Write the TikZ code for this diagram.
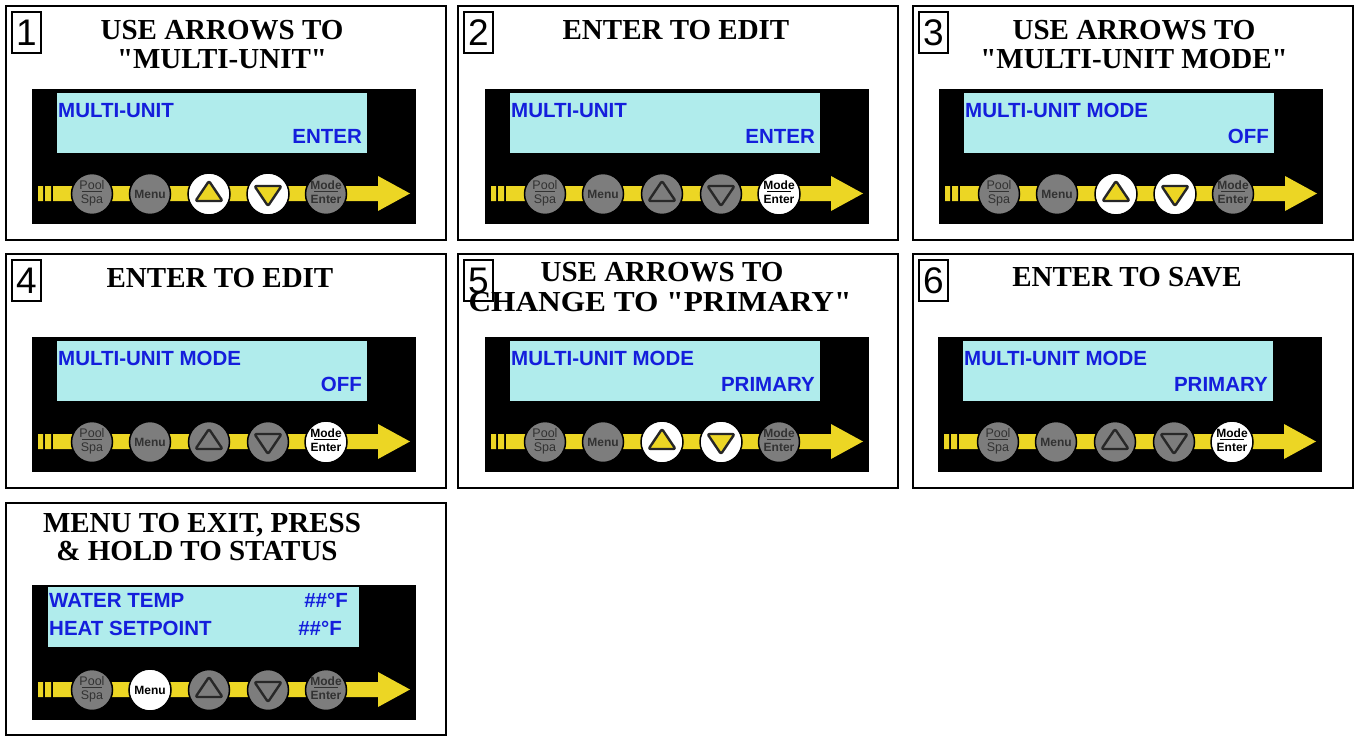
\documentclass[tikz,border=0pt]{standalone}
\usepackage{fontspec}
\setmainfont{Liberation Serif}[Ligatures=TeXOff]
\setsansfont{Liberation Sans}
\definecolor{lcd}{RGB}{176,236,236}
\definecolor{lcdblue}{RGB}{20,30,220}
\definecolor{btngray}{RGB}{125,125,125}
\definecolor{btntext}{RGB}{50,50,50}
\definecolor{trigray}{RGB}{40,40,40}
\definecolor{padyellow}{RGB}{236,214,36}
\newcommand\dq{\char34\relax}
\tikzset{
 panel/.style={draw=black, line width=2pt, minimum width=440pt, minimum height=234pt, inner sep=0pt, anchor=north west},
 numbox/.style={draw=black, line width=2pt, minimum width=29pt, minimum height=41pt, inner sep=0pt, anchor=north west, font=\sffamily\fontsize{37}{37}\selectfont},
 ttl/.style={font=\bfseries\fontsize{29}{29}\selectfont, inner sep=0pt, anchor=base},
 blk/.style={fill=black, minimum width=384pt, minimum height=135pt, inner sep=0pt, anchor=north west},
 lcdbox/.style={fill=lcd, minimum width=310pt, minimum height=60pt, inner sep=0pt, anchor=north west},
 lcdtxt/.style={text=lcdblue, font=\sffamily\bfseries\fontsize{20.5}{21}\selectfont, inner sep=0pt},
 btnoff/.style={circle, fill=btngray, draw=black, line width=1.5pt, minimum size=41pt, inner sep=0pt},
 btnon/.style={circle, fill=white, draw=black, line width=1.5pt, minimum size=42pt, inner sep=0pt},
 btoff/.style={text=btntext, inner sep=0pt, font=\sffamily\fontsize{12.5}{12.5}\selectfont},
 bton/.style={text=black, inner sep=0pt, font=\sffamily\fontsize{12.5}{12.5}\selectfont},
 mybold/.style={font=\sffamily\bfseries\fontsize{12}{12}\selectfont},
 lnoff/.style={draw=btntext, line width=0.9pt},
 lnon/.style={draw=black, line width=0.9pt},
 trioff/.style={draw=trigray, fill=btngray, line width=2.4pt, rounded corners=2pt, line join=round},
 trion/.style={draw=black!85, fill=padyellow, line width=2.4pt, rounded corners=2pt, line join=round},
 barfill/.style={fill=padyellow},
}
\newcommand\Btns[8]{%
\begin{scope}[shift={(#2,#3)}]
 \node[blk] (#1blk) at (0,0) {};
 \path[barfill] (6,97) rectangle (11,112) (13,97) rectangle (19,112) (21,97) rectangle (347,112);
 \path[barfill] (346,87) -- (378,104.5) -- (346,122) -- cycle;
 \node[btn#4] (#1pool) at (60,105) {};
 \node[bt#4, anchor=base] (#1poolA) at (60,100) {Pool};
 \draw[ln#4] (50,102.5) -- (70,102.5);
 \node[bt#4, anchor=base] (#1poolB) at (60,114) {Spa};
 \node[btn#5] (#1menu) at (118,105) {};
 \node[bt#5, mybold] (#1menuA) at (118,105) {Menu};
 \node[btn#6] (#1up) at (177,105) {};
 \draw[tri#6] (163.5,112) -- (177,92) -- (190.5,112) -- cycle;
 \node[btn#7] (#1dn) at (236,105) {};
 \draw[tri#7] (222.5,97) -- (236,117) -- (249.5,97) -- cycle;
 \node[btn#8] (#1mode) at (294,105) {};
 \node[bt#8, mybold, anchor=base] (#1modeA) at (294,100) {Mode};
 \draw[ln#8] (282,102.5) -- (306,102.5);
 \node[bt#8, mybold, anchor=base] (#1modeB) at (294,114) {Enter};
\end{scope}}
\newcommand\Lcd[5]{%
 \node[lcdbox] (#1lcd) at ({#2+25},{#3+4}) {};
 \node[lcdtxt, anchor=base west] (#1la) at ({#2+26},{#3+28}) {#4};
 \node[lcdtxt, anchor=base east] (#1lb) at ({#2+330},{#3+54}) {#5};
}
\begin{document}
\begin{tikzpicture}[x=1pt,y=-1pt]
\useasboundingbox[fill=white] (0,0) rectangle (1356,736);
% Panel 1
\node[panel] (p1) at (5,5) {};
\node[numbox] (p1n) at (11,11) {1};
\node[ttl] (p1a) at (222,39) {USE ARROWS TO};
\node[ttl] (p1b) at (222,68) {\dq MULTI-UNIT\dq};
\Btns{p1}{32}{89}{off}{off}{on}{on}{off}
\Lcd{p1}{32}{89}{MULTI-UNIT}{ENTER}
% Panel 2
\node[panel] (p2) at (457,5) {};
\node[numbox] (p2n) at (463,11) {2};
\node[ttl] (p2a) at (676,39) {ENTER TO EDIT};
\Btns{p2}{485}{89}{off}{off}{off}{off}{on}
\Lcd{p2}{485}{89}{MULTI-UNIT}{ENTER}
% Panel 3
\node[panel] (p3) at (912,5) {};
\node[numbox] (p3n) at (918,11) {3};
\node[ttl] (p3a) at (1134,39) {USE ARROWS TO};
\node[ttl] (p3b) at (1134,68) {\dq MULTI-UNIT MODE\dq};
\Btns{p3}{939}{89}{off}{off}{on}{on}{off}
\Lcd{p3}{939}{89}{MULTI-UNIT MODE}{OFF}
% Panel 4
\node[panel] (p4) at (5,253) {};
\node[numbox] (p4n) at (11,259) {4};
\node[ttl] (p4a) at (220,287) {ENTER TO EDIT};
\Btns{p4}{32}{337}{off}{off}{off}{off}{on}
\Lcd{p4}{32}{337}{MULTI-UNIT MODE}{OFF}
% Panel 5
\node[panel] (p5) at (457,253) {};
\node[numbox] (p5n) at (463,259) {5};
\node[ttl] (p5a) at (662,281) {USE ARROWS TO};
\node[ttl] (p5b) at (660,311) {\scalebox{1.08}[1]{CHANGE TO \dq PRIMARY\dq}};
\Btns{p5}{485}{337}{off}{off}{on}{on}{off}
\Lcd{p5}{485}{337}{MULTI-UNIT MODE}{PRIMARY}
% Panel 6
\node[panel] (p6) at (912,253) {};
\node[numbox] (p6n) at (918,259) {6};
\node[ttl] (p6a) at (1127,286) {ENTER TO SAVE};
\Btns{p6}{938}{337}{off}{off}{off}{off}{on}
\Lcd{p6}{938}{337}{MULTI-UNIT MODE}{PRIMARY}
% Panel 7
\node[panel, minimum height=232pt] (p7) at (5,502) {};
\node[ttl] (p7a) at (202,532) {MENU TO EXIT, PRESS};
\node[ttl] (p7b) at (197,560) {\& HOLD TO STATUS};
\Btns{p7}{32}{585}{off}{on}{off}{off}{off}
\node[lcdbox, minimum width=311pt] (p7lcd) at (48,587) {};
\node[lcdtxt, anchor=base west] (p7la) at (49,607) {WATER TEMP};
\node[lcdtxt, anchor=base east] (p7lb) at (348,607) {\#\#°F};
\node[lcdtxt, anchor=base west] (p7lc) at (49,635) {HEAT SETPOINT};
\node[lcdtxt, anchor=base east] (p7ld) at (342,635) {\#\#°F};
\end{tikzpicture}
\end{document}
